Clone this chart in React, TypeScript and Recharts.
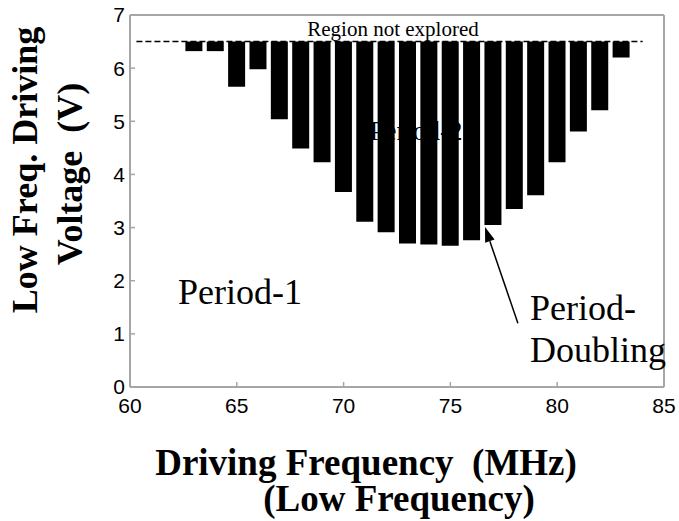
import { ComposedChart, Bar, XAxis, YAxis, ReferenceLine } from "recharts"

// drive frequency (MHz) of each sweep step
const frequencies = [63, 64, 65, 66, 67, 68, 69, 70, 71, 72, 73, 74, 75, 76, 77, 78, 79, 80, 81, 82, 83]
// low-frequency voltage (V) where period doubling sets in
const onsetVoltage = [
  6.32, 6.32, 5.65, 5.98, 5.04, 4.49, 4.23, 3.67, 3.11, 2.91, 2.7, 2.68, 2.66, 2.76, 3.05, 3.35, 3.61,
  4.23, 4.81, 5.21, 6.2,
]
// sweep stopped at this voltage
const exploredLimit = 6.5

const xTicks = [60, 65, 70, 75, 80, 85]
const yTicks = [0, 1, 2, 3, 4, 5, 6, 7]

const W = 679
const H = 521
const FRAME = "#a6a6a6"
const SERIF = "'Liberation Serif', 'Times New Roman', serif"
const SANS = "'Liberation Sans', Arial, sans-serif"

const data = frequencies.map((freq, i) => ({
  freq,
  band: [onsetVoltage[i], exploredLimit],
}))

// arrow from the label up to the boundary near 77 MHz
const arrowSegment = [
  { x: 78.16, y: 1.2 },
  { x: 76.62, y: 3.01 },
]

const Arrow = (props: any) => {
  const { x1, y1, x2, y2 } = props
  const ang = Math.atan2(y2 - y1, x2 - x1)
  const len = 15
  const half = 5
  const bx = x2 - len * Math.cos(ang)
  const by = y2 - len * Math.sin(ang)
  const px = -Math.sin(ang) * half
  const py = Math.cos(ang) * half
  return (
    <g>
      <line x1={x1} y1={y1} x2={bx} y2={by} stroke="#000" strokeWidth={1.5} />
      <polygon points={`${x2},${y2} ${bx + px},${by + py} ${bx - px},${by - py}`} fill="#000" />
    </g>
  )
}

const pre = { whiteSpace: "pre" as const }

export default function App() {
  return (
    <div style={{ position: "absolute", left: 0, top: 0, width: W, height: H, background: "#fff" }}>
      <ComposedChart
        width={W}
        height={H}
        data={data}
        margin={{ top: 14, right: 14, bottom: 104, left: 70 }}
      >
        <XAxis
          dataKey="freq"
          type="number"
          domain={[60, 85]}
          ticks={xTicks}
          interval={0}
          allowDataOverflow
          height={30}
          axisLine={{ stroke: FRAME, strokeWidth: 2 }}
          tickLine={{ stroke: FRAME, strokeWidth: 1.5 }}
          tickSize={-5}
          tickMargin={16}
          tick={{ fontSize: 21, fill: "#000", fontFamily: SANS }}
        />
        <XAxis
          xAxisId="top"
          orientation="top"
          type="number"
          domain={[60, 85]}
          ticks={xTicks}
          interval={0}
          height={1}
          axisLine={{ stroke: FRAME, strokeWidth: 2 }}
          tickLine={{ stroke: FRAME, strokeWidth: 1.5 }}
          tickSize={-5}
          tick={false}
        />
        <YAxis
          type="number"
          domain={[0, 7]}
          ticks={yTicks}
          interval={0}
          allowDataOverflow
          width={60}
          axisLine={{ stroke: FRAME, strokeWidth: 2 }}
          tickLine={{ stroke: FRAME, strokeWidth: 1.5 }}
          tickSize={-5}
          tickMargin={10}
          tick={{ fontSize: 21, fill: "#000", fontFamily: SANS }}
        />
        <YAxis
          yAxisId="right"
          orientation="right"
          type="number"
          domain={[0, 7]}
          ticks={yTicks}
          interval={0}
          width={1}
          axisLine={{ stroke: FRAME, strokeWidth: 2 }}
          tickLine={{ stroke: FRAME, strokeWidth: 1.5 }}
          tickSize={-5}
          tick={false}
        />
        <Bar dataKey="band" fill="#000" barSize={17} isAnimationActive={false} />
        <ReferenceLine
          segment={[
            { x: 60.3, y: exploredLimit },
            { x: 84, y: exploredLimit },
          ]}
          stroke="#000"
          strokeWidth={1.5}
          strokeDasharray="6 3"
        />
        <ReferenceLine segment={arrowSegment} shape={Arrow} />
      </ComposedChart>

      <svg
        width={W}
        height={H}
        style={{ position: "absolute", left: 0, top: 0, pointerEvents: "none" }}
      >
        <g fontFamily={SERIF} fill="#000">
          <text x={393} y={36} fontSize={21} textAnchor="middle">
            Region not explored
          </text>
          <text x={416} y={140} fontSize={27} textAnchor="middle">
            Period-2
          </text>
          <text x={178} y={304} fontSize={36}>
            Period-1
          </text>
          <text x={530} y={320} fontSize={36}>
            Period-
          </text>
          <text x={530} y={362} fontSize={36}>
            Doubling
          </text>
        </g>
        <g fontFamily={SERIF} fontWeight="bold" fill="#000">
          <text x={37} y={170} fontSize={36} textAnchor="middle" transform="rotate(-90 37 170)">
            Low Freq. Driving
          </text>
          <text
            x={82}
            y={174}
            fontSize={36}
            textAnchor="middle"
            transform="rotate(-90 82 174)"
            xmlSpace="preserve"
            style={pre}
          >
            {"Voltage\u00a0 (V)"}
          </text>
          <text x={366} y={475} fontSize={37} textAnchor="middle" xmlSpace="preserve" style={pre}>
            {"Driving Frequency\u00a0 (MHz)"}
          </text>
          <text x={399} y={511} fontSize={37} textAnchor="middle">
            (Low Frequency)
          </text>
        </g>
      </svg>
    </div>
  )
}
